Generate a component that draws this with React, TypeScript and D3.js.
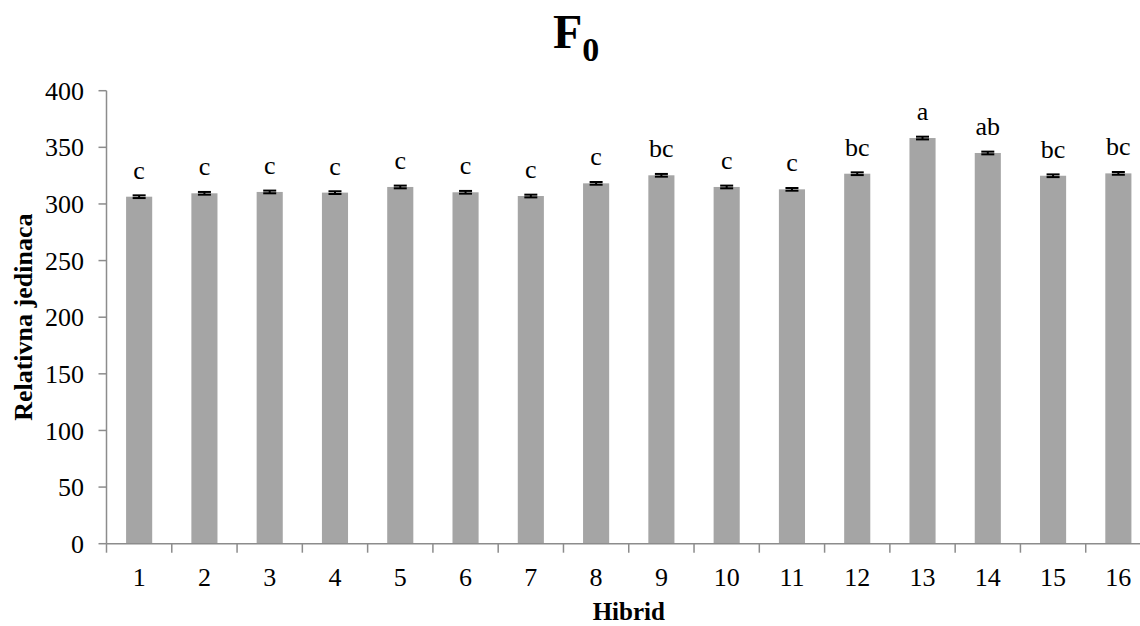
import React from "react";
import * as d3 from "d3";

const categories = ["1","2","3","4","5","6","7","8","9","10","11","12","13","14","15","16"];
const values = [306.4, 309.4, 310.6, 310, 315, 310.3, 307, 318.2, 325.3, 315, 312.9, 326.7, 358.2, 345, 324.9, 327];
const errors = [1.2, 1.2, 1.2, 1.2, 1.2, 1.2, 1.2, 1.2, 1.2, 1.2, 1.2, 1.2, 1.2, 1.2, 1.2, 1.2];
const letters = ["c","c","c","c","c","c","c","c","bc","c","c","bc","a","ab","bc","bc"];
const yTicks = [0, 50, 100, 150, 200, 250, 300, 350, 400];

const W = 1140, H = 626;
const left = 106.5, right = 1151, top = 90.7, bottom = 543.7;
const axisColor = "#8c8c8c";
const font = "'Liberation Serif', 'Times New Roman', serif";

export default function App() {
  const x = d3.scaleBand<string>().domain(categories).range([left, right]).paddingInner(0.6).paddingOuter(0.3);
  const y = d3.scaleLinear().domain([0, 400]).range([bottom, top]);
  const step = x.step();
  const boundaries = d3.range(categories.length + 1).map(i => left + i * step);

  return (
    <svg width={W} height={H} style={{ position: "absolute", left: 0, top: 0, display: "block" }} fontFamily={font}>
      <rect width={W} height={H} fill="#fff" />
      {/* title */}
      <text x={553} y={48} fontSize={48} fontWeight="bold" fill="#000">
        F<tspan fontSize={34} dy={13}>0</tspan>
      </text>
      {/* bars */}
      {categories.map((c, i) => (
        <rect key={c} x={x(c)!} y={y(values[i])} width={x.bandwidth()} height={bottom - y(values[i])} fill="#a5a5a5" />
      ))}
      {/* error bars */}
      {categories.map((c, i) => {
        const cx = x(c)! + x.bandwidth() / 2;
        const hi = y(values[i] + errors[i]);
        const lo = y(values[i] - errors[i]);
        return (
          <g key={"e" + c} stroke="#000" strokeWidth={2}>
            <line x1={cx} x2={cx} y1={hi} y2={lo} />
            <line x1={cx - 6.5} x2={cx + 6.5} y1={hi} y2={hi} />
            <line x1={cx - 6.5} x2={cx + 6.5} y1={lo} y2={lo} />
          </g>
        );
      })}
      {/* letters */}
      {categories.map((c, i) => (
        <text key={"l" + c} x={x(c)! + x.bandwidth() / 2} y={y(values[i]) - 18} fontSize={26} textAnchor="middle" fill="#000">
          {letters[i]}
        </text>
      ))}
      {/* y axis */}
      <line x1={left} x2={left} y1={top} y2={bottom} stroke={axisColor} strokeWidth={1.5} />
      {yTicks.map(t => (
        <g key={"y" + t}>
          <line x1={left - 8} x2={left} y1={y(t)} y2={y(t)} stroke={axisColor} strokeWidth={1.5} />
          <text x={84} y={y(t)} dy="0.35em" fontSize={26} textAnchor="end" fill="#000">{t}</text>
        </g>
      ))}
      {/* x axis */}
      <line x1={left} x2={right} y1={bottom} y2={bottom} stroke={axisColor} strokeWidth={1.5} />
      {boundaries.map((b, i) => (
        <line key={"xt" + i} x1={b} x2={b} y1={bottom} y2={bottom + 9} stroke={axisColor} strokeWidth={1.5} />
      ))}
      {categories.map(c => (
        <text key={"xl" + c} x={x(c)! + x.bandwidth() / 2} y={586} fontSize={26} textAnchor="middle" fill="#000">{c}</text>
      ))}
      {/* axis titles */}
      <text x={(left + right) / 2} y={620} fontSize={25} fontWeight="bold" textAnchor="middle" fill="#000">Hibrid</text>
      <text transform={`translate(32,${(top + bottom) / 2}) rotate(-90)`} fontSize={26} fontWeight="bold" textAnchor="middle" fill="#000">Relativna jedinaca</text>
    </svg>
  );
}
